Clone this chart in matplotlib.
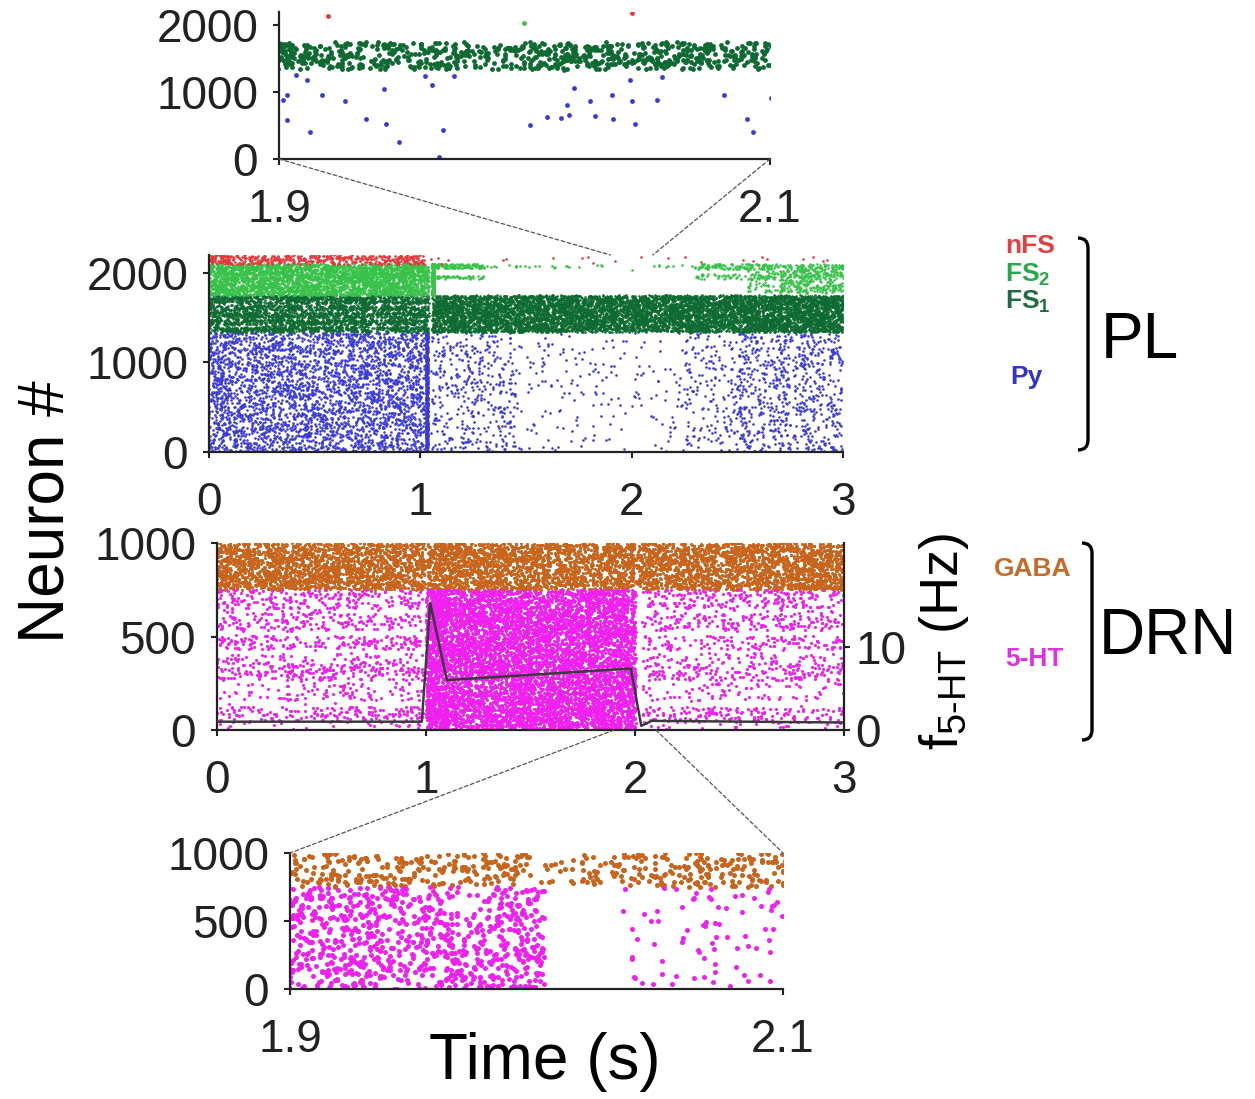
import numpy as np
import matplotlib
matplotlib.use('Agg')
import matplotlib.pyplot as plt
from matplotlib.patches import ConnectionPatch, PathPatch
from matplotlib.path import Path

plt.rcParams['font.family'] = ['Liberation Sans', 'DejaVu Sans']
plt.rcParams['mathtext.fontset'] = 'custom'
plt.rcParams['mathtext.rm'] = 'Liberation Sans'
plt.rcParams['mathtext.default'] = 'regular'

W, H = 1255, 1099

# ---------------- PL network (neuron index bands) ----------------
py_range = [0, 1340]
fs1_range = [1340, 1750]
fs2_range = [1750, 2100]
nfs_range = [2100, 2200]

# spikes per second over the whole band, per time window
py_t0 = [0.00, 1.05, 1.45, 2.10, 2.25, 2.50]
py_t1 = [1.02, 1.45, 1.90, 2.25, 2.50, 3.00]
py_rate = [3200, 1000, 250, 250, 700, 1400]
py_burst = [1.026, 1.036, 45000]   # synchronous volley after stimulus onset

fs1_t0 = [0.00, 1.055]
fs1_t1 = [1.04, 3.00]
fs1_rate = [2800, 3800]
fs1_edges = [1340, 1400, 1420, 1480, 1500, 1560, 1580, 1640, 1660, 1750]
fs1_weight = [1.0, 0.3, 1.0, 0.3, 1.0, 0.4, 1.0, 0.3, 1.0]

fs2_t0 = [0.00, 1.055, 1.065, 1.065, 1.30, 2.10, 2.30, 2.30, 2.55, 2.70]
fs2_t1 = [1.04, 1.065, 1.30, 1.30, 1.90, 2.30, 2.70, 2.70, 2.70, 3.00]
fs2_lo = [1750, 1750, 2050, 1930, 2060, 2060, 2040, 1930, 1780, 1780]
fs2_hi = [2100, 2100, 2100, 1970, 2090, 2090, 2100, 1990, 2100, 2100]
fs2_rate = [3000, 25000, 500, 200, 40, 40, 300, 150, 400, 1300]

nfs_t0 = [0.00, 1.05, 2.10]
nfs_t1 = [1.02, 1.90, 3.00]
nfs_rate = [450, 12, 12]

# spikes read one by one in the 1.9-2.1 s zoom
py_zoom_t = [1.9015, 1.9034, 1.9032, 1.9068, 1.9115, 1.9125, 1.9177, 1.9267, 1.9353,
             1.9426, 1.9437, 1.9490, 1.9596, 1.9622, 1.9652, 1.9667, 1.9711, 2.0022,
             2.0091, 2.0150, 2.0160, 2.0172, 2.0182, 2.0201, 2.0265, 2.0289, 2.0356,
             2.0361, 2.0431, 2.0437, 2.0451, 2.0541, 2.0562, 2.0811, 2.0905, 2.0929]
py_zoom_n = [890, 955, 590, 1255, 1175, 405, 955, 865, 605,
             1055, 520, 260, 1235, 1110, 35, 435, 1240, 510,
             625, 610, 1325, 810, 665, 1060, 875, 650, 960,
             605, 1175, 865, 520, 885, 1230, 955, 605, 405]
nfs_zoom_t = [1.9198, 2.0437]
nfs_zoom_n = [2135, 2180]
fs2_zoom_t = [1.9997]
fs2_zoom_n = [2035]

# ---------------- DRN network ----------------
gaba_range = [750, 1000]
gaba_t0 = [0.000, 1.005, 1.998, 2.018]
gaba_t1 = [0.995, 1.998, 2.018, 3.000]
gaba_rate = [2200, 2200, 700, 2200]

ht_range = [0, 750]
ht_t0 = [0.00, 1.00, 1.10, 2.035]
ht_t1 = [0.985, 1.10, 2.003, 3.00]
ht_rate = [1200, 11000, 7500, 1100]
ht_banded = [True, False, False, True]
ht_edges = [0, 40, 125, 160, 250, 265, 360, 410, 430, 505, 535, 625, 650, 750]
ht_weight = [0.25, 1.0, 0.04, 0.45, 0.04, 1.0, 0.55, 0.04, 1.0, 0.08, 1.0, 0.25, 1.0]

# mean 5-HT firing rate (Hz)
fht_t = [0.0, 0.98, 1.02, 1.10, 1.98, 2.03, 2.08, 3.0]
fht_v = [1.0, 1.0, 15.3, 6.0, 7.4, 0.5, 1.1, 0.9]

py_color = '#3a3ad6'
fs1_color = '#0d6b32'
fs2_color = '#38c24a'
nfs_color = '#e5373a'
gaba_color = '#c8641c'
ht_color = '#f020f0'

rng = np.random.default_rng(3)


def spikes(t0, t1, lo, hi, rate, edges=None, weight=None):
    n = int(round(rate * (t1 - t0)))
    t = rng.uniform(t0, t1, n)
    if edges is None:
        return t, rng.uniform(lo, hi, n)
    e = np.array(edges, float)
    p = np.array(weight) * np.diff(e)
    k = rng.choice(len(p), n, p=p / p.sum())
    return t, rng.uniform(e[k], e[k + 1])


def collect(parts):
    ts = np.concatenate([p[0] for p in parts])
    ns = np.concatenate([p[1] for p in parts])
    return ts, ns


py = collect([spikes(a, b, *py_range, r) for a, b, r in zip(py_t0, py_t1, py_rate)]
             + [spikes(py_burst[0], py_burst[1], *py_range, py_burst[2]),
                (np.array(py_zoom_t), np.array(py_zoom_n, float))])
fs1 = collect([spikes(fs1_t0[0], fs1_t1[0], *fs1_range, fs1_rate[0], fs1_edges, fs1_weight),
               spikes(fs1_t0[1], fs1_t1[1], *fs1_range, fs1_rate[1])])
fs2 = collect([spikes(a, b, lo, hi, r) for a, b, lo, hi, r in
               zip(fs2_t0, fs2_t1, fs2_lo, fs2_hi, fs2_rate)]
              + [(np.array(fs2_zoom_t), np.array(fs2_zoom_n, float))])
nfs = collect([spikes(a, b, *nfs_range, r) for a, b, r in zip(nfs_t0, nfs_t1, nfs_rate)]
              + [(np.array(nfs_zoom_t), np.array(nfs_zoom_n, float))])
gaba = collect([spikes(a, b, *gaba_range, r) for a, b, r in zip(gaba_t0, gaba_t1, gaba_rate)])
ht = collect([spikes(a, b, *ht_range, r, ht_edges if bd else None, ht_weight if bd else None)
              for a, b, r, bd in zip(ht_t0, ht_t1, ht_rate, ht_banded)])

fig = plt.figure(figsize=(W / 100, H / 100), dpi=100)


def box(x0, y0, x1, y1):
    # pixel box -> figure fraction rect
    return [x0 / W, 1 - y1 / H, (x1 - x0) / W, (y1 - y0) / H]


ax_top = fig.add_axes(box(279, 12, 770, 159))
ax_pl = fig.add_axes(box(209, 255, 843, 452))
ax_drn = fig.add_axes(box(217, 543, 844, 730))
ax_bot = fig.add_axes(box(290, 853, 783, 989))

TICK = 33
for ax in (ax_top, ax_pl, ax_drn, ax_bot):
    for s in ('top', 'right'):
        ax.spines[s].set_visible(False)
    for s in ('left', 'bottom'):
        ax.spines[s].set_linewidth(1.6)
        ax.spines[s].set_color('#222222')
    ax.tick_params(axis='both', labelsize=TICK, length=4, width=1.5, colors='#222222',
                   direction='out')
    ax.tick_params(axis='x', pad=17)
    ax.tick_params(axis='y', pad=11)

pl_sets = [(py, py_color), (fs1, fs1_color), (fs2, fs2_color), (nfs, nfs_color)]
for ax, size in ((ax_pl, 3.5), (ax_top, 12)):
    for (t, n), c in pl_sets:
        ax.scatter(t, n, s=size, c=c, linewidths=0, marker='o')
    ax.set_ylim(0, 2200)
    ax.set_yticks([0, 1000, 2000])
ax_pl.set_xlim(0, 3)
ax_pl.set_xticks([0, 1, 2, 3])
ax_top.set_xlim(1.9, 2.1)
ax_top.set_xticks([1.9, 2.1])
ax_top.set_xticklabels(['1.9', '2.1'])

for ax, size in ((ax_drn, 5), (ax_bot, 13)):
    ax.scatter(gaba[0], gaba[1], s=size, c=gaba_color, linewidths=0)
    ax.scatter(ht[0], ht[1], s=size, c=ht_color, linewidths=0)
    ax.set_ylim(0, 1000)
    ax.set_yticks([0, 500, 1000])
ax_drn.set_xlim(0, 3)
ax_drn.set_xticks([0, 1, 2, 3])
ax_bot.set_xlim(1.9, 2.1)
ax_bot.set_xticks([1.9, 2.1])
ax_bot.set_xticklabels(['1.9', '2.1'])

ax_f = ax_drn.twinx()
ax_f.plot(fht_t, fht_v, color='#3a3a3a', lw=1.8)
ax_f.set_ylim(0, 22.5)
ax_f.set_xlim(0, 3)
ax_f.set_yticks([0, 10])
for s in ('top', 'left', 'bottom'):
    ax_f.spines[s].set_visible(False)
ax_f.spines['right'].set_linewidth(1.6)
ax_f.spines['right'].set_color('#222222')
ax_f.tick_params(axis='y', labelsize=TICK, length=4, width=1.5, pad=4, colors='#222222')

# zoom connectors
dash = dict(color='#555555', lw=0.9, linestyle=(0, (3, 2)))
for x in (1.9, 2.1):
    fig.add_artist(ConnectionPatch((x, 0), (x, 2200), 'data', 'data',
                                   axesA=ax_top, axesB=ax_pl, **dash))
    fig.add_artist(ConnectionPatch((x, 0), (x, 1000), 'data', 'data',
                                   axesA=ax_drn, axesB=ax_bot, **dash))


def ftext(x, y, s, **kw):
    fig.text(x / W, 1 - y / H, s, ha='center', va='center', **kw)


ftext(47, 512, 'Neuron #', fontsize=46, rotation=90)
ftext(545, 1062, 'Time (s)', fontsize=46)
ftext(944, 642, r'f$_{5\text{-}HT}$ (Hz)', fontsize=39, rotation=90)

lab = dict(fontsize=19, fontweight='bold')
ftext(1030, 246, 'nFS', color='#e0403f', **lab)
ftext(1028, 275, r'FS$_{2}$', color='#27a84b', **lab)
ftext(1028, 302, r'FS$_{1}$', color='#1f6b42', **lab)
ftext(1026, 377, 'Py', color='#3333cc', **lab)
ftext(1033, 569, 'GABA', color='#c46c2c', **lab)
ftext(1034, 659, '5-HT', color='#dd33dd', **lab)
ftext(1140, 341, 'PL', fontsize=46)
ftext(1168, 637, 'DRN', fontsize=46)


def bracket(x, y0, y1, hook=10):
    pts = [(x - hook, y0), (x, y0), (x, y0 + hook), (x, y1 - hook), (x, y1), (x - hook, y1)]
    codes = [Path.MOVETO, Path.CURVE3, Path.CURVE3, Path.LINETO, Path.CURVE3, Path.CURVE3]
    verts = [(px / W, 1 - py_ / H) for px, py_ in pts]
    fig.add_artist(PathPatch(Path(verts, codes), fill=False, lw=2.4, color='black',
                             transform=fig.transFigure))


bracket(1088, 238, 450)
bracket(1092, 543, 740)

fig.savefig('out.png', dpi=100)
